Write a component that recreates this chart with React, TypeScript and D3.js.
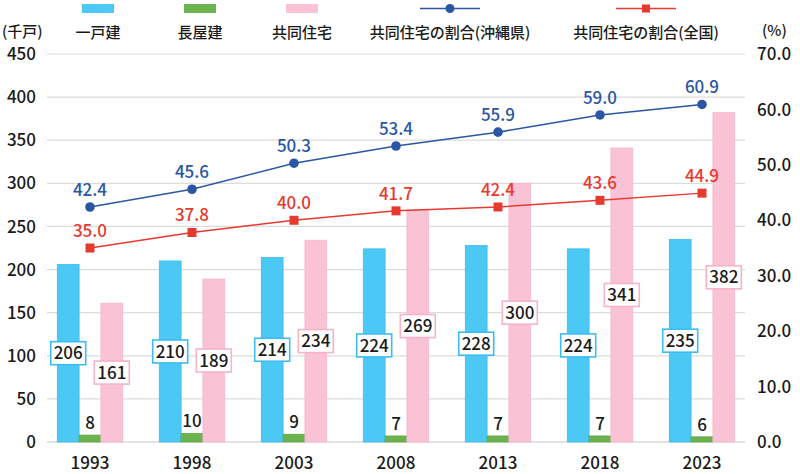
import { useEffect, useRef } from "react";
import * as d3 from "d3";

const years = ["1993", "1998", "2003", "2008", "2013", "2018", "2023"];
const detached = [206, 210, 214, 224, 228, 224, 235];
const rowHouse = [8, 10, 9, 7, 7, 7, 6];
const apartment = [161, 189, 234, 269, 300, 341, 382];
const shareOkinawa = [42.4, 45.6, 50.3, 53.4, 55.9, 59.0, 60.9];
const shareNation = [35.0, 37.8, 40.0, 41.7, 42.4, 43.6, 44.9];
const leftTicks = [0, 50, 100, 150, 200, 250, 300, 350, 400, 450];
const rightTicks = [0, 10, 20, 30, 40, 50, 60, 70];

const FONT = "'Noto Sans CJK JP', 'Noto Sans', sans-serif";
const C_BLUE = "#4cc8f5";
const C_GREEN = "#6cb24e";
const C_PINK = "#fac3d5";
const C_LINE1 = "#2b56a3";
const C_LINE2 = "#e63a2f";

export default function App() {
  const svgRef = useRef(null);

  useEffect(() => {
    const svg = d3.select(svgRef.current);
    svg.selectAll("*").remove();

    const top = 54, bottom = 442, gridL = 47, gridR = 745;

    const x = d3.scaleBand().domain(years).range([39, 753]);
    const bw = 21.8;
    const sub = d3.scaleBand().domain(["a", "b", "c"]).range([-bw * 1.5, bw * 1.5]);
    const y = d3.scaleLinear().domain([0, 450]).range([bottom, top]);
    const y2 = d3.scaleLinear().domain([0, 70]).range([bottom, top]);
    const cx = (yr) => x(yr) + x.bandwidth() / 2;

    // grid
    svg.append("g")
      .selectAll("line")
      .data(leftTicks)
      .join("line")
      .attr("x1", gridL).attr("x2", gridR)
      .attr("y1", (d) => y(d)).attr("y2", (d) => y(d))
      .attr("stroke", (d) => (d === 0 ? "#c8c8c8" : "#dcdcdc"))
      .attr("stroke-width", 1.2);

    // axes labels
    svg.append("g")
      .selectAll("text")
      .data(leftTicks)
      .join("text")
      .attr("x", 36).attr("y", (d) => y(d))
      .attr("dy", "0.36em")
      .attr("text-anchor", "end")
      .attr("font-size", 17).attr("font-weight", 500)
      .text((d) => d);

    svg.append("g")
      .selectAll("text")
      .data(rightTicks)
      .join("text")
      .attr("x", 757).attr("y", (d) => y2(d))
      .attr("dy", "0.36em")
      .attr("text-anchor", "start")
      .attr("font-size", 17).attr("font-weight", 500)
      .text((d) => d.toFixed(1));

    svg.append("g")
      .selectAll("text")
      .data(years)
      .join("text")
      .attr("x", (d) => cx(d)).attr("y", 463)
      .attr("dy", "0.36em")
      .attr("text-anchor", "middle")
      .attr("font-size", 17).attr("font-weight", 500)
      .text((d) => d);

    svg.append("text").attr("x", 2).attr("y", 32).attr("dy", "0.36em")
      .attr("font-size", 15).attr("font-weight", 500).text("(千戸)");
    svg.append("text").attr("x", 762).attr("y", 31).attr("dy", "0.36em")
      .attr("font-size", 15).attr("font-weight", 500).text("(%)");

    // bars
    const series = [
      { key: "a", vals: detached, fill: C_BLUE, stroke: "#3bbcf0" },
      { key: "b", vals: rowHouse, fill: C_GREEN, stroke: "#62a844" },
      { key: "c", vals: apartment, fill: C_PINK, stroke: "#f6b6cb" },
    ];
    series.forEach((s) => {
      svg.append("g")
        .selectAll("rect")
        .data(s.vals)
        .join("rect")
        .attr("x", (d, i) => cx(years[i]) + sub(s.key))
        .attr("y", (d) => y(d))
        .attr("width", sub.bandwidth())
        .attr("height", (d) => bottom - y(d))
        .attr("fill", s.fill)
        .attr("stroke", s.stroke)
        .attr("stroke-width", 0.8);
    });

    // boxed labels
    const boxed = (vals, key, border) => {
      const g = svg.append("g")
        .selectAll("g")
        .data(vals)
        .join("g")
        .attr("transform", (d, i) =>
          `translate(${cx(years[i]) + sub(key) + sub.bandwidth() / 2},${(y(d) + bottom) / 2})`);
      g.append("rect")
        .attr("x", -17.5).attr("y", -11.5)
        .attr("width", 35).attr("height", 23)
        .attr("fill", "#fff")
        .attr("stroke", border)
        .attr("stroke-width", 1.6);
      g.append("text")
        .attr("text-anchor", "middle")
        .attr("dy", "0.36em")
        .attr("font-size", 17).attr("font-weight", 500)
        .text((d) => d);
    };
    boxed(detached, "a", "#3cbcf0");
    boxed(apartment, "c", "#f7b3c8");

    svg.append("g")
      .selectAll("text")
      .data(rowHouse)
      .join("text")
      .attr("x", (d, i) => cx(years[i]) + sub("b") + sub.bandwidth() / 2)
      .attr("y", (d) => y(d) - 6)
      .attr("text-anchor", "middle")
      .attr("font-size", 17).attr("font-weight", 500)
      .text((d) => d);

    // lines
    const line = d3.line()
      .x((d, i) => cx(years[i]))
      .y((d) => y2(d));

    svg.append("path").datum(shareOkinawa).attr("d", line)
      .attr("fill", "none").attr("stroke", C_LINE1).attr("stroke-width", 1.5);
    svg.append("g").selectAll("circle").data(shareOkinawa).join("circle")
      .attr("cx", (d, i) => cx(years[i])).attr("cy", (d) => y2(d))
      .attr("r", 4.8).attr("fill", C_LINE1);
    svg.append("g").selectAll("text").data(shareOkinawa).join("text")
      .attr("x", (d, i) => cx(years[i])).attr("y", (d) => y2(d) - 11)
      .attr("text-anchor", "middle").attr("font-size", 17).attr("font-weight", 500)
      .attr("fill", C_LINE1).text((d) => d.toFixed(1));

    svg.append("path").datum(shareNation).attr("d", line)
      .attr("fill", "none").attr("stroke", C_LINE2).attr("stroke-width", 1.5);
    svg.append("g").selectAll("rect").data(shareNation).join("rect")
      .attr("x", (d, i) => cx(years[i]) - 4.5).attr("y", (d) => y2(d) - 4.5)
      .attr("width", 9).attr("height", 9).attr("fill", C_LINE2);
    svg.append("g").selectAll("text").data(shareNation).join("text")
      .attr("x", (d, i) => cx(years[i])).attr("y", (d) => y2(d) - 11)
      .attr("text-anchor", "middle").attr("font-size", 17).attr("font-weight", 500)
      .attr("fill", C_LINE2).text((d) => d.toFixed(1));

    // legend
    const legend = [
      { label: "一戸建", cx: 98, type: "rect", color: C_BLUE },
      { label: "長屋建", cx: 200, type: "rect", color: C_GREEN },
      { label: "共同住宅", cx: 302, type: "rect", color: C_PINK },
      { label: "共同住宅の割合(沖縄県)", cx: 450, type: "circle", color: C_LINE1 },
      { label: "共同住宅の割合(全国)", cx: 646, type: "square", color: C_LINE2 },
    ];
    legend.forEach((l) => {
      const g = svg.append("g");
      if (l.type === "rect") {
        g.append("rect").attr("x", l.cx - 16).attr("y", 4)
          .attr("width", 32).attr("height", 9).attr("fill", l.color);
      } else {
        g.append("line").attr("x1", l.cx - 30).attr("x2", l.cx + 30)
          .attr("y1", 8.5).attr("y2", 8.5)
          .attr("stroke", l.color).attr("stroke-width", 1.5);
        if (l.type === "circle") {
          g.append("circle").attr("cx", l.cx).attr("cy", 8.5).attr("r", 4.5).attr("fill", l.color);
        } else {
          g.append("rect").attr("x", l.cx - 4).attr("y", 4.5)
            .attr("width", 8).attr("height", 8).attr("fill", l.color);
        }
      }
      g.append("text").attr("x", l.cx).attr("y", 33).attr("dy", "0.36em")
        .attr("text-anchor", "middle").attr("font-size", 15).attr("font-weight", 500)
        .text(l.label);
    });
  }, []);

  return (
    <svg
      ref={svgRef}
      width={800}
      height={474}
      style={{ position: "absolute", left: 0, top: 0, fontFamily: FONT, background: "#fff" }}
      fill="#1a1a1a"
    />
  );
}
